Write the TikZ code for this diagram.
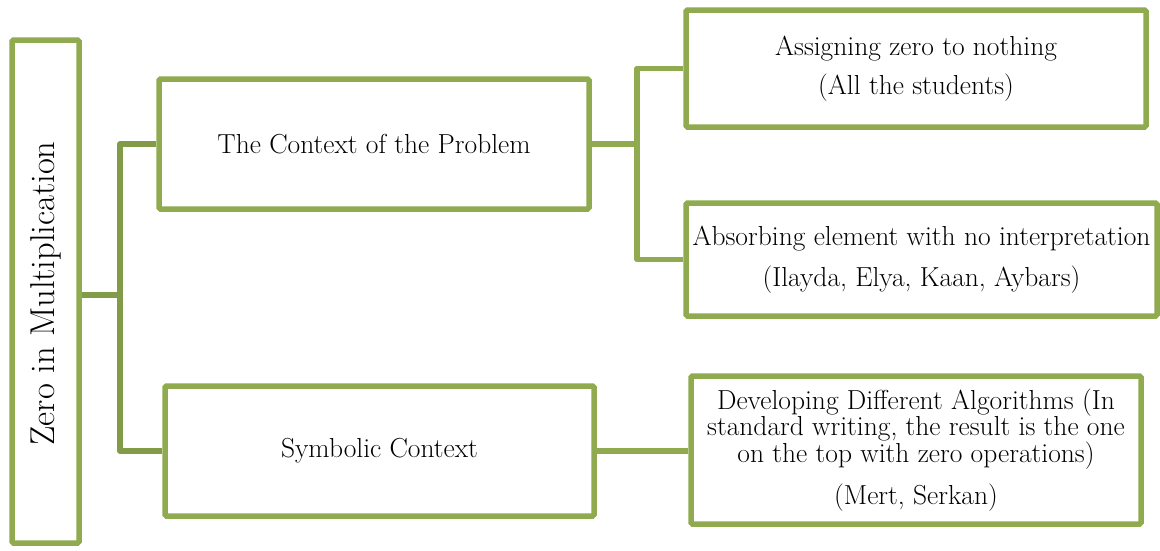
\documentclass[tikz,border=0pt]{standalone}
\begin{document}
\begin{tikzpicture}[x=1pt,y=-1pt,
  boxgreen/.style={draw={rgb,255:red,143;green,170;blue,79}},
  tbox/.style={boxgreen,line width=5.5pt,rectangle,rounded corners=1.5pt,inner sep=0pt,align=center,
    font=\fontsize{27.5}{26}\selectfont},
  conn/.style={draw={rgb,255:red,130;green,155;blue,72},line width=5.5pt,line join=round},
  connr/.style={boxgreen,line width=5.5pt,line join=round}]
\useasboundingbox (0,0) rectangle (1160,550);
\node[tbox,minimum width=67pt,minimum height=503pt] (main) at (45.5,291.5) {};
\node[rotate=90,font=\fontsize{34.5}{36}\selectfont] (maint) at (46,293.5) {Zero in Multiplication};
\node[tbox,minimum width=430pt,minimum height=130pt] (ctx) at (374,144) {The Context of the Problem};
\node[tbox,minimum width=429pt,minimum height=130pt] (sym) at (379.5,451) {Symbolic Context};
\node[tbox,minimum width=460pt,minimum height=117pt] (a1) at (916,68.5) {Assigning zero to nothing\\[12pt](All the students)};
\node[tbox,minimum width=471pt,minimum height=113pt] (a2) at (921.5,259.5) {Absorbing element with no interpretation\\[14pt](Ilayda, Elya, Kaan, Aybars)};
\node[tbox,minimum width=450pt,minimum height=148pt] (d1) at (916,450) {Developing Different Algorithms (In\\standard writing, the result is the one\\on the top with zero operations)\\[14pt](Mert, Serkan)};
\coordinate (j1) at (120,295);
\coordinate (j2) at (637,144);
\draw[conn] (main.east |- j1) -- (j1);
\draw[conn] (ctx.west) -| (j1) |- (sym.west);
\draw[connr] (ctx.east) -- (j2);
\draw[connr] (a1.west) -| (j2) |- (a2.west);
\draw[connr] (sym.east) -- (sym.east -| d1.west);
\end{tikzpicture}
\end{document}
